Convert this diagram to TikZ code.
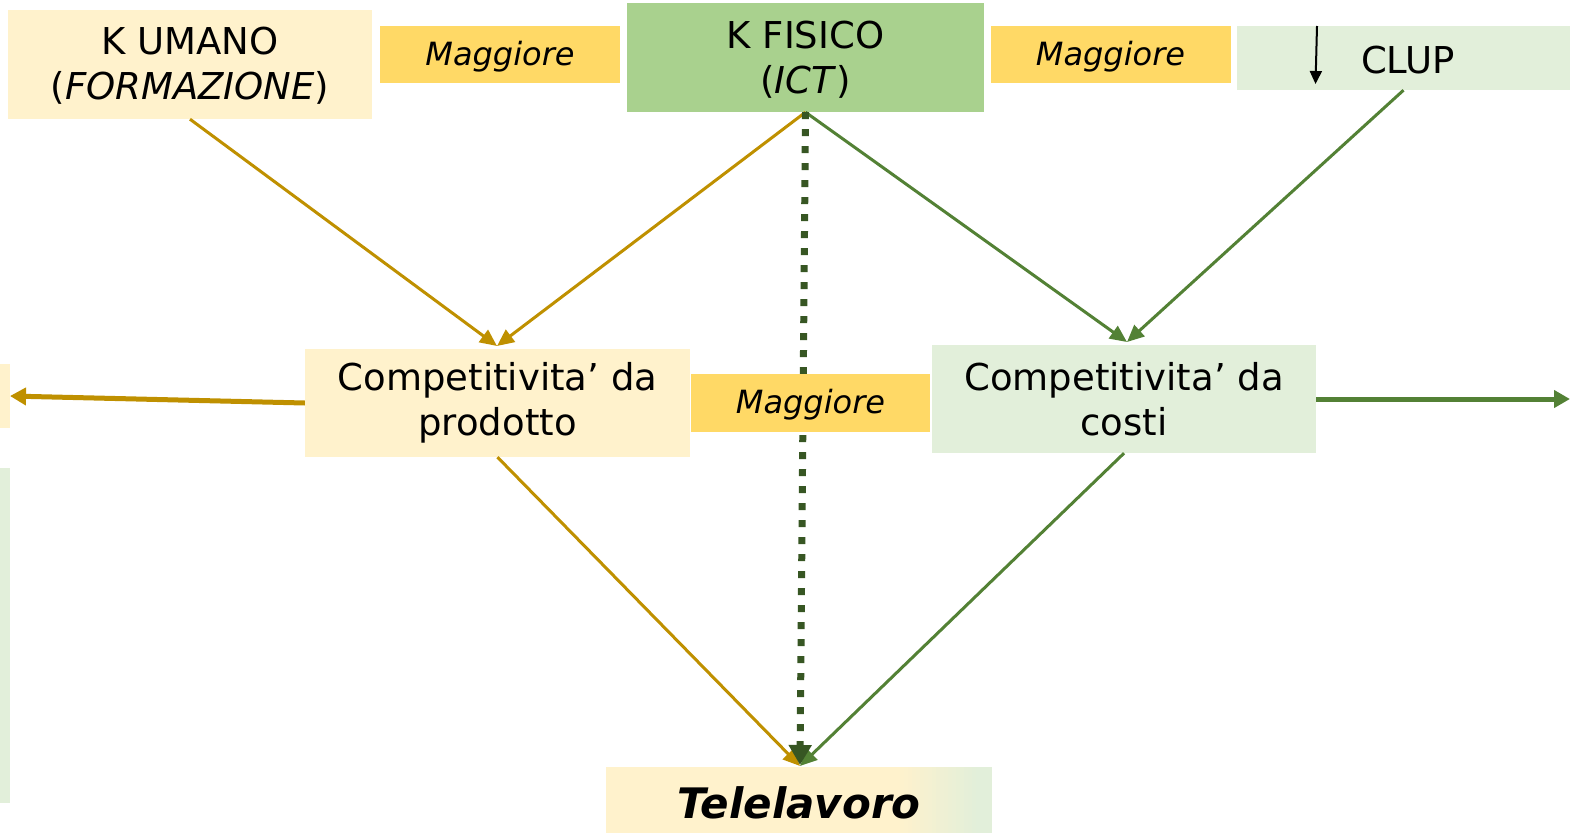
\documentclass[tikz,border=0pt]{standalone}
\usepackage{fontspec}
\setmainfont{DejaVu Sans}
\usetikzlibrary{arrows.meta}
\definecolor{ylt}{HTML}{FFF2CC}
\definecolor{gold}{HTML}{FFD966}
\definecolor{gmid}{HTML}{A9D18E}
\definecolor{glt}{HTML}{E2EFDA}
\definecolor{ochre}{HTML}{BF9000}
\definecolor{gdark}{HTML}{538135}
\definecolor{gdeep}{HTML}{375623}
\tikzset{
  box/.style={inner sep=0pt, align=center, font=\fontsize{37}{45}\selectfont},
  magbox/.style={fill=gold, inner sep=0pt, minimum width=240, minimum height=57, font=\fontsize{32}{38}\selectfont\itshape},
  ochrearrow/.style={draw=ochre, line width=3, -{Triangle[length=17,width=15]}},
  greenarrow/.style={draw=gdark, line width=3, -{Triangle[length=17,width=15]}},
}
\begin{document}
\begin{tikzpicture}[x=1pt,y=-1pt]
\useasboundingbox (0,0) rectangle (1570,835);
% partial boxes at left edge
\fill[ylt] (0,364) rectangle (10,428);
\fill[glt] (0,468) rectangle (10,803);
\coordinate (leftend) at (10,396);
\coordinate (rightend) at (1570,399);
% boxes
\node[fill=ylt, minimum width=364, minimum height=109, inner sep=0pt] (ku) at (190,64.5) {};
\node[box] (kut) at (190,66) {K UMANO\\(\textit{FORMAZIONE})};
\node[fill=gold, minimum width=240, minimum height=57, inner sep=0pt] (m1) at (500,54.5) {};
\node[magbox, fill=none] (m1t) at (500,57) {Maggiore};
\node[fill=gmid, minimum width=357, minimum height=109, inner sep=0pt] (kf) at (805.5,57.5) {};
\node[box] (kft) at (805.5,59.5) {K FISICO\\(\textit{ICT})};
\node[fill=gold, minimum width=240, minimum height=57, inner sep=0pt] (m2) at (1110.5,54.5) {};
\node[magbox, fill=none] (m2t) at (1110.5,57) {Maggiore};
\node[fill=glt, minimum width=333, minimum height=64, inner sep=0pt] (clup) at (1403.5,58) {};
\node[box] (clupt) at (1408,60) {CLUP};
\draw[black, line width=2, -{Triangle[length=13,width=12]}] (1317,26) -- (1315.5,84);
\node[box, fill=ylt, minimum width=385, minimum height=108] (cp) at (497.5,403) {Competitivita’ da\\prodotto};
\node[box, fill=glt, minimum width=384, minimum height=108] (cc) at (1124,399) {Competitivita’ da\\costi};
% Telelavoro background
\fill[ylt] (606,767) rectangle (901,833);
\foreach \i in {0,...,19}{
  \pgfmathsetmacro{\p}{5*\i+5}
  \fill[glt!\p!ylt] ({900+4*\i},767) rectangle ({905+4*\i},833);
}
\fill[glt] (979,767) rectangle (992,833);
\node[inner sep=0pt, minimum width=386, minimum height=66, font=\fontsize{42}{50}\selectfont\bfseries\itshape] (tel) at (799,802.5) {Telelavoro};
% connectors
\draw[ochrearrow] (ku.south) -- (497,346);
\draw[ochrearrow] (kf.south) -- (497,346);
\draw[greenarrow] (kf.south) -- (1127,342);
\draw[greenarrow] (clup.south) -- (1127,342);
\draw[ochrearrow] (cp.south) -- (800,766);
\draw[greenarrow] (cc.south) -- (800,766);
\draw[draw=gdeep, line width=7, dash pattern=on 7 off 10, -{Triangle[length=20,width=22]}] (kf.south) -- (800,765);
\draw[draw=ochre, line width=5, -{Triangle[length=16,width=17]}] (cp.west) -- (leftend);
\draw[draw=gdark, line width=5, -{Triangle[length=16,width=17]}] (cc.east) -- (rightend);
\node[magbox, minimum width=239, minimum height=58] (m3) at (810.5,403) {};
\node[magbox, fill=none] (m3t) at (810.5,405) {Maggiore};
\end{tikzpicture}
\end{document}
